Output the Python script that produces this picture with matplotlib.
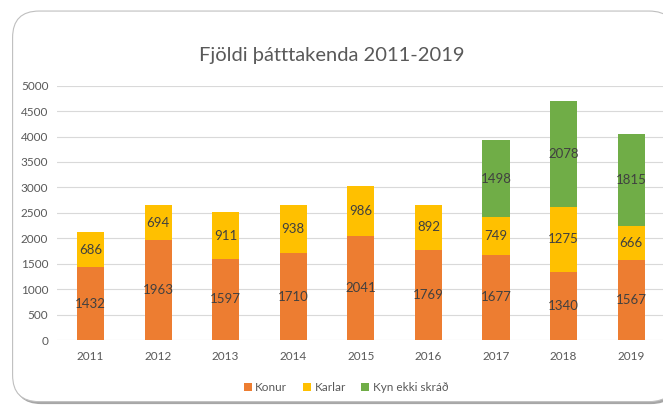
import numpy as np
import matplotlib.pyplot as plt
from matplotlib.patches import FancyBboxPatch

plt.rcParams['font.family'] = ['Lato', 'DejaVu Sans']

years = ['2011', '2012', '2013', '2014', '2015', '2016', '2017', '2018', '2019']
konur = [1432, 1963, 1597, 1710, 2041, 1769, 1677, 1340, 1567]
karlar = [686, 694, 911, 938, 986, 892, 749, 1275, 666]
kyn_ekki = [0, 0, 0, 0, 0, 0, 1498, 2078, 1815]

series = [('Konur', konur, '#ED7D31'),
          ('Karlar', karlar, '#FFC000'),
          ('Kyn ekki skráð', kyn_ekki, '#70AD47')]

fig = plt.figure(figsize=(6.63, 4.09), dpi=100)

# card with shadow, kept behind the axes
shadow = FancyBboxPatch((0.022, 0.012), 1.0, 0.955, boxstyle='round,pad=0,rounding_size=0.04',
                        transform=fig.transFigure, facecolor='#a6a6a6', edgecolor='none',
                        mutation_aspect=663 / 409, zorder=-2)
card = FancyBboxPatch((0.019, 0.018), 1.0, 0.955, boxstyle='round,pad=0,rounding_size=0.04',
                      transform=fig.transFigure, facecolor='white', edgecolor='#bfbfbf',
                      linewidth=0.8, mutation_aspect=663 / 409, zorder=-1)
fig.patches.extend([shadow, card])

ax = fig.add_axes([0.0855, 0.1687, 0.9175, 0.6218])
ax.patch.set_alpha(0)

x = np.arange(len(years))
bottom = np.zeros(len(years))
handles = []
for name, vals, color in series:
    vals = np.array(vals, dtype=float)
    bars = ax.bar(x, vals, width=0.4, bottom=bottom, color=color, label=name, zorder=3)
    handles.append(bars)
    for xi, b, v in zip(x, bottom, vals):
        if v > 0:
            ax.text(xi, b + v / 2, f'{int(v)}', ha='center', va='center',
                    fontsize=9.5, color='#404040', zorder=4)
    bottom += vals

ax.set_xlim(-0.5, len(years) - 0.5)
ax.set_ylim(0, 5000)
ax.set_yticks(np.arange(0, 5001, 500))
ax.set_xticks(x)
ax.set_xticklabels(years)
ax.yaxis.grid(True, color='#d9d9d9', linewidth=0.8, zorder=0)
ax.set_axisbelow(True)
for s in ax.spines.values():
    s.set_visible(False)
ax.tick_params(axis='both', length=0, labelsize=8.5, labelcolor='#595959')
ax.tick_params(axis='x', pad=8)
ax.tick_params(axis='y', pad=6)

fig.text(0.5, 0.865, 'Fjöldi þátttakenda 2011-2019', ha='center', va='center',
         fontsize=14.5, color='#595959')

fig.legend(handles=handles, loc='center', bbox_to_anchor=(0.522, 0.052), ncol=3,
           frameon=False, fontsize=8.5, labelcolor='#595959', handlelength=0.7,
           handleheight=0.7, handletextpad=0.3, columnspacing=1.3)

fig.savefig('out.png', dpi=100)
